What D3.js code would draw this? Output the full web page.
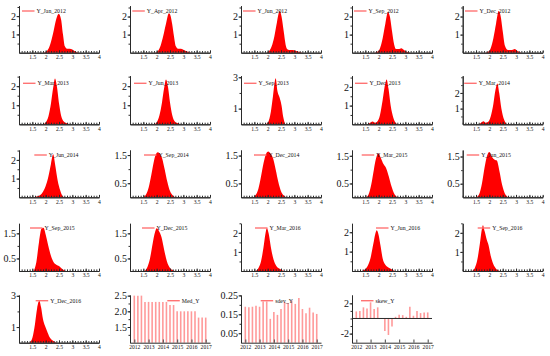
<!DOCTYPE html>
<html><head><meta charset="utf-8">
<script src="https://cdn.jsdelivr.net/npm/d3@7"></script>
<style>
body{margin:0;background:#fff}
svg{display:block}
text{font-family:"Liberation Serif","Times New Roman",serif;fill:#111}
</style>
</head><body>
<svg id="c" width="550" height="356"></svg>
<script>
// ---------- data ----------
const panelNames = ["Y_Jan_2012","Y_Apr_2012","Y_Jun_2012","Y_Sep_2012","Y_Dec_2012",
  "Y_Mar_2013","Y_Jun_2013","Y_Sep_2013","Y_Dec_2013","Y_Mar_2014",
  "Y_Jun_2014","Y_Sep_2014","Y_Dec_2014","Y_Mar_2015","Y_Jun_2015",
  "Y_Sep_2015","Y_Dec_2015","Y_Mar_2016","Y_Jun_2016","Y_Sep_2016","Y_Dec_2016"];

const Y_Jan_2012 = [[1.9,0],[2.0,0.04],[2.1,0.2],[2.2,0.6],[2.3,1.2],[2.4,1.85],[2.49,2.13],[2.58,1.8],[2.65,1.0],[2.72,0.35],[2.8,0.22],[2.9,0.22],[3.0,0.18],[3.1,0.08],[3.25,0]];
const Y_Apr_2012 = [[1.94,0],[2.05,0.1],[2.15,0.4],[2.25,0.95],[2.35,1.6],[2.46,2.18],[2.52,2.05],[2.58,1.6],[2.65,0.9],[2.72,0.35],[2.8,0.22],[2.9,0.22],[3.0,0.17],[3.15,0.06],[3.3,0]];
const Y_Jun_2012 = [[1.95,0],[2.05,0.08],[2.15,0.35],[2.25,0.9],[2.35,1.7],[2.45,2.3],[2.52,2.0],[2.6,1.2],[2.68,0.4],[2.75,0.18],[2.85,0.15],[3.0,0.14],[3.1,0.08],[3.3,0]];
const Y_Sep_2012 = [[1.85,0],[1.95,0.05],[2.05,0.25],[2.15,0.8],[2.25,1.6],[2.35,2.25],[2.42,2.0],[2.5,1.2],[2.58,0.45],[2.65,0.2],[2.75,0.2],[2.85,0.25],[2.95,0.15],[3.05,0.05],[3.2,0]];
const Y_Dec_2012 = [[1.85,0],[1.95,0.05],[2.05,0.25],[2.15,0.8],[2.25,1.6],[2.35,2.3],[2.42,2.05],[2.5,1.2],[2.58,0.4],[2.7,0.15],[2.85,0.15],[2.95,0.2],[3.05,0.1],[3.2,0]];
const Y_Mar_2013 = [[1.9,0],[2.0,0.1],[2.1,0.4],[2.2,1.1],[2.28,1.9],[2.35,2.4],[2.42,2.0],[2.5,1.1],[2.58,0.45],[2.68,0.15],[2.8,0.05],[2.95,0]];
const Y_Jun_2013 = [[1.9,0],[2.0,0.1],[2.1,0.45],[2.2,1.15],[2.28,1.9],[2.35,2.35],[2.42,2.0],[2.5,1.15],[2.58,0.5],[2.68,0.15],[2.8,0.05],[2.95,0]];
const Y_Sep_2013 = [[1.92,0],[2.02,0.15],[2.12,0.8],[2.2,1.8],[2.3,2.93],[2.37,2.1],[2.45,1.69],[2.52,1.2],[2.58,0.5],[2.66,0]];
const Y_Dec_2013 = [[1.6,0],[1.7,0.1],[1.78,0.15],[1.86,0.08],[1.95,0.15],[2.05,0.5],[2.15,1.3],[2.25,2.2],[2.3,2.4],[2.37,1.9],[2.45,1.0],[2.55,0.35],[2.7,0]];
const Y_Mar_2014 = [[1.6,0],[1.7,0.12],[1.78,0.2],[1.86,0.1],[1.95,0.15],[2.05,0.5],[2.15,1.3],[2.23,2.2],[2.3,2.6],[2.37,2.0],[2.45,1.0],[2.55,0.3],[2.66,0]];
const Y_Jun_2014 = [[1.54,0],[1.7,0.05],[1.8,0.12],[1.9,0.3],[2.0,0.6],[2.1,1.1],[2.2,1.8],[2.28,2.3],[2.36,1.7],[2.45,0.9],[2.55,0.35],[2.62,0.1],[2.7,0]];
const Y_Sep_2014 = [[1.5,0],[1.6,0.1],[1.7,0.35],[1.8,0.8],[1.9,1.3],[1.98,1.55],[2.05,1.6],[2.12,1.55],[2.2,1.4],[2.3,1.0],[2.4,0.55],[2.5,0.22],[2.6,0.07],[2.7,0]];
const Y_Dec_2014 = [[1.45,0],[1.55,0.08],[1.65,0.3],[1.75,0.75],[1.85,1.25],[1.95,1.58],[2.02,1.65],[2.1,1.58],[2.2,1.4],[2.3,1.0],[2.4,0.55],[2.5,0.22],[2.6,0.07],[2.7,0]];
const Y_Mar_2015 = [[1.52,0],[1.62,0.1],[1.72,0.45],[1.82,1.0],[1.9,1.4],[1.99,1.59],[2.08,1.42],[2.18,1.2],[2.28,1.05],[2.38,0.75],[2.48,0.4],[2.58,0.14],[2.71,0]];
const Y_Jun_2015 = [[1.52,0],[1.62,0.12],[1.72,0.5],[1.82,1.1],[1.92,1.55],[2.0,1.67],[2.1,1.48],[2.2,1.38],[2.28,1.35],[2.38,0.95],[2.48,0.45],[2.58,0.14],[2.71,0]];
const Y_Sep_2015 = [[1.55,0],[1.65,0.35],[1.75,1.15],[1.85,1.7],[1.92,1.72],[2.0,1.45],[2.1,1.0],[2.2,0.6],[2.3,0.35],[2.4,0.25],[2.5,0.2],[2.6,0.1],[2.75,0]];
const Y_Dec_2015 = [[1.55,0],[1.65,0.15],[1.75,0.5],[1.85,1.1],[1.94,1.55],[2.0,1.7],[2.08,1.6],[2.18,1.35],[2.28,0.85],[2.38,0.4],[2.5,0.12],[2.68,0]];
const Y_Mar_2016 = [[1.55,0],[1.65,0.15],[1.75,0.5],[1.84,1.2],[1.91,1.9],[1.97,2.26],[2.04,1.95],[2.12,1.25],[2.22,0.6],[2.32,0.28],[2.45,0.12],[2.6,0]];
const Y_Jun_2016 = [[1.36,0],[1.5,0.1],[1.6,0.3],[1.7,0.7],[1.8,1.4],[1.87,1.9],[1.93,2.1],[2.0,1.85],[2.07,1.3],[2.15,0.65],[2.25,0.32],[2.4,0.15],[2.6,0]];
const Y_Sep_2016 = [[1.34,0],[1.45,0.15],[1.55,0.6],[1.65,1.5],[1.72,2.2],[1.76,2.4],[1.82,2.1],[1.9,1.65],[1.97,1.35],[2.05,0.8],[2.15,0.35],[2.25,0.12],[2.4,0]];
const Y_Dec_2016 = [[1.39,0],[1.5,0.3],[1.6,1.2],[1.68,2.2],[1.76,2.68],[1.83,2.25],[1.9,1.5],[1.97,1.1],[2.05,0.75],[2.15,0.35],[2.25,0.15],[2.41,0]];

const densities = [Y_Jan_2012,Y_Apr_2012,Y_Jun_2012,Y_Sep_2012,Y_Dec_2012,
  Y_Mar_2013,Y_Jun_2013,Y_Sep_2013,Y_Dec_2013,Y_Mar_2014,
  Y_Jun_2014,Y_Sep_2014,Y_Dec_2014,Y_Mar_2015,Y_Jun_2015,
  Y_Sep_2015,Y_Dec_2015,Y_Mar_2016,Y_Jun_2016,Y_Sep_2016,Y_Dec_2016];

// y-axis maxima and labelled ticks of each density panel
const yMaxes = [2.57,2.6,2.6,2.6,2.6, 2.55,2.55,3.1,2.6,3.1, 2.53,1.68,1.7,1.71,1.74, 1.9,1.9,2.5,2.46,2.5, 3.05];
const yLabels = [[1,2],[1,2],[1,2],[1,2],[1,2], [1,2],[1,2],[1,3],[1,2],[1,2],
  [1,2],[0.5,1.5],[0.5,1.5],[0.5,1.5],[0.5,1.5], [0.5,1.5],[0.5,1.5],[1,2],[1,2],[1,2], [1,3]];
const xTickLabels = [1.5,2,2.5,3,3.5,4];

// summary series (quarterly, Jan 2012 .. Dec 2016)
const dates = d3.range(21).map(i => 2012 + i*0.25);
const medY  = [2.5,2.5,2.5,2.3,2.3,2.3,2.3,2.3,2.3,2.3,2.2,2.2,2.0,2.0,2.0,2.0,2.0,2.0,1.8,1.8,1.8];
const sdevY = [0.19,0.187,0.19,0.195,0.19,0.218,0.218,0.126,0.162,0.147,0.178,0.215,0.21,0.223,0.205,0.236,0.178,0.156,0.185,0.16,0.152];
const skewY = [0.93,1.0,1.47,1.33,2.13,1.24,1.47,0.05,-1.64,-2.18,-1.07,0.22,0.49,0.44,0.22,1.56,0.36,1.0,0.71,0.8,0.8];
const yearTicks = [2012,2013,2014,2015,2016,2017];

// ---------- layout ----------
const colX = [19,130,241,352,462.7];
const rowBase = [52.7,124.3,197.3,271,342.7];
const rowH = [47,48.6,47.3,47.7,47.7];
const W = 80;
const legendDx = [3,2.3,2,2,2.3, 4,4,3,3,1.5, 15.3,14,13,9.7,4, 11,12,14,24,15, 16.7];
const legendY  = [11,83.3,155,228,300.7];
const AX = "#2a2a2a";
const svg = d3.select("#c");

function styleAxis(g){
  g.selectAll("path,line").attr("stroke",AX).attr("stroke-width",1);
}

function legend(x, y, label){
  svg.append("line").attr("x1",x).attr("x2",x+12.5).attr("y1",y).attr("y2",y)
    .attr("stroke","#ff7373").attr("stroke-width",1.4);
  svg.append("text").attr("x",x+14.5).attr("y",y+2).attr("font-size",5.8).text(label);
}

function yAxis(y, x0, labels, minor, fs, fmt){
  const gm = svg.append("g").attr("transform",`translate(${x0},0)`)
    .call(d3.axisLeft(y).tickValues(minor).tickSize(1.5).tickSizeOuter(0).tickFormat(""));
  styleAxis(gm);
  const g = svg.append("g").attr("transform",`translate(${x0},0)`)
    .call(d3.axisLeft(y).tickValues(labels).tickSize(2.4).tickSizeOuter(0).tickPadding(0.6).tickFormat(fmt));
  styleAxis(g);
  g.selectAll("text").attr("font-size",fs).attr("font-family","Liberation Serif").attr("fill","#111");
}

// ---------- density panels ----------
densities.forEach((data,i) => {
  const c = i%5, r = Math.floor(i/5);
  const x0 = colX[c], y0 = rowBase[r], h = rowH[r];
  const x = d3.scaleLinear().domain([1,4]).range([x0,x0+W]);
  const y = d3.scaleLinear().domain([0,yMaxes[i]]).range([y0,y0-h]);
  svg.append("path").datum(data).attr("fill","#ff0000")
    .attr("d", d3.area().x(d=>x(d[0])).y0(y(0)).y1(d=>y(d[1])).curve(d3.curveMonotoneX));
  const gx = svg.append("g").attr("transform",`translate(0,${y0})`)
    .call(d3.axisBottom(x).tickValues(d3.range(1,4.0001,0.1)).tickSize(-1.6).tickSizeOuter(0).tickFormat(""));
  styleAxis(gx);
  const gx2 = svg.append("g").attr("transform",`translate(0,${y0})`)
    .call(d3.axisBottom(x).tickValues(xTickLabels).tickSize(-2.4).tickSizeOuter(0).tickFormat(d=>String(d)));
  styleAxis(gx2);
  gx2.selectAll("text").attr("font-size",5.6).attr("font-family","Liberation Serif").attr("fill","#111").attr("y",2.4);
  const lab = yLabels[i];
  const step = (lab[1]-lab[0])/2;
  yAxis(y, x0, lab, d3.range(step, yMaxes[i]+1e-9, step), 10, d=>String(d));
  legend(x0+legendDx[i], legendY[r], panelNames[i]);
});

// ---------- summary bar panels ----------
function barPanel(c, vals, name, ydom, labels, minor, fmt, base, legDx, zeroLine){
  const x0 = colX[c], y0 = rowBase[4], h = rowH[4];
  const x = d3.scaleLinear().domain([2011.7,2017.3]).range([x0,x0+W]);
  const y = d3.scaleLinear().domain(ydom).range([y0,y0-h]);
  svg.append("g").selectAll("line").data(vals).join("line")
    .attr("x1",(d,i)=>x(dates[i])).attr("x2",(d,i)=>x(dates[i]))
    .attr("y1",y(base)).attr("y2",d=>y(d))
    .attr("stroke","#ff9a9a").attr("stroke-width",1.6);
  if (zeroLine){
    svg.append("line").attr("x1",x0).attr("x2",x0+W).attr("y1",y(0)).attr("y2",y(0))
      .attr("stroke",AX).attr("stroke-width",1);
  }
  const gx = svg.append("g").attr("transform",`translate(0,${y0})`)
    .call(d3.axisBottom(x).tickValues(yearTicks).tickSize(-3.2).tickSizeOuter(0).tickFormat(d3.format("d")));
  styleAxis(gx);
  gx.selectAll(".tick line").attr("stroke","#555").attr("stroke-width",1.1);
  gx.selectAll("text").attr("font-size",5.6).attr("font-family","Liberation Serif").attr("fill","#111").attr("y",2.4);
  yAxis(y, x0, labels, minor, 10, fmt);
  legend(x0+legDx, legendY[4], name);
}

barPanel(1, medY, "Med_Y", [1.0,2.52], [1.5,2.0,2.5], d3.range(1.25,2.52,0.25), d3.format(".1f"), 1.0, 37.3, false);
barPanel(2, sdevY, "sdev_Y", [0,0.252], [0.05,0.15,0.25], d3.range(0.05,0.2521,0.05), d3.format(".2f"), 0, 19.7, false);
barPanel(3, skewY, "skew_Y", [-3.2,3.1], [-2,2], [-2,-1,0,1,2], d=>String(d), 0, 9, true);
</script>
</body></html>
